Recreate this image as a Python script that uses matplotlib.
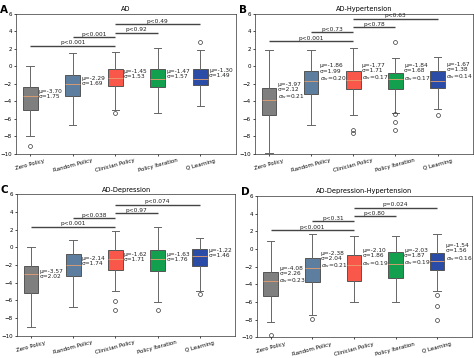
import numpy as np
import matplotlib
matplotlib.use("Agg")
import matplotlib.pyplot as plt

plt.rcParams['font.family'] = ['DejaVu Sans']

policies = ["Zero Policy", "Random Policy", "Clinician Policy", "Policy Iteration", "Q Learning"]
box_colors = ["#7f7f7f", "#5d7e9e", "#f9574a", "#13a04e", "#2a4ba6"]
titles = ["AD", "AD-Hypertension", "AD-Depression", "AD-Depression-Hypertension"]
letters = ["A", "B", "C", "D"]

# box stats per panel
q3_A = [-2.40, -1.03, -0.24, -0.31, -0.31]
med_A = [-3.43, -2.00, -1.34, -1.41, -1.38]
q1_A = [-5.03, -3.35, -2.29, -2.40, -2.17]
hi_A = [0.00, 1.51, 1.63, 2.16, 1.90]
lo_A = [-7.90, -6.74, -4.95, -5.37, -4.57]
fl_A = [[-9.06], [], [-5.37], [], [2.81]]
mu_A = [-3.70, -2.29, -1.45, -1.47, -1.30]
sd_A = [1.75, 1.69, 1.53, 1.57, 1.49]
sw_A = None
p_A = ["p<0.001", "p<0.001", "p<0.92", "p<0.49"]
pbar_A = [2.39, 3.38, 3.87, 4.86]

q3_B = [-2.50, -0.48, -0.51, -0.78, -0.51]
med_B = [-3.83, -1.66, -1.54, -1.47, -1.66]
q1_B = [-5.50, -3.18, -2.61, -2.61, -2.50]
hi_B = [1.90, 1.89, 2.08, 0.93, 1.05]
lo_B = [-9.85, -6.69, -5.54, -5.28, -4.90]
fl_B = [[], [], [-7.26, -7.56], [2.85, -5.45, -6.40, -7.30], [-5.54]]
mu_B = [-3.97, -1.86, -1.77, -1.84, -1.67]
sd_B = [2.12, 1.99, 1.71, 1.68, 1.38]
sw_B = [0.21, 0.20, 0.17, 0.17, 0.14]
p_B = ["p<0.001", "p<0.73", "p<0.78", "p<0.63"]
pbar_B = [2.91, 3.94, 4.48, 5.47]

q3_C = [-2.08, -0.72, -0.34, -0.30, -0.19]
med_C = [-3.02, -2.00, -1.32, -1.32, -0.95]
q1_C = [-5.17, -3.28, -2.57, -2.64, -2.15]
hi_C = [0.08, 0.83, 1.89, 2.34, 1.06]
lo_C = [-9.06, -6.79, -4.91, -6.15, -4.98]
fl_C = [[], [], [-6.11, -7.06], [-7.06], [-5.28]]
mu_C = [-3.57, -2.14, -1.62, -1.63, -1.22]
sd_C = [2.02, 1.74, 1.71, 1.76, 1.46]
sw_C = None
p_C = ["p<0.001", "p<0.038", "p<0.97", "p<0.074"]
pbar_C = [2.34, 3.32, 3.85, 4.83]

q3_D = [-2.62, -0.96, -0.62, -0.28, -0.47]
med_D = [-3.57, -2.09, -1.80, -1.72, -1.34]
q1_D = [-5.35, -3.68, -3.57, -3.30, -2.32]
hi_D = [0.97, 1.73, 1.46, 1.46, 1.73]
lo_D = [-8.22, -7.46, -6.03, -6.03, -4.70]
fl_D = [[-9.73], [-7.92], [], [], [-5.19, -6.48, -8.03]]
mu_D = [-4.08, -2.38, -2.10, -2.03, -1.54]
sd_D = [2.26, 2.04, 1.86, 1.87, 1.56]
sw_D = [0.23, 0.21, 0.19, 0.19, 0.16]
p_D = ["p<0.001", "p<0.31", "p<0.80", "p=0.024"]
pbar_D = [2.18, 3.20, 3.73, 4.71]

# pairs compared (1-based box index)
pairs = [(1, 3), (2, 3), (3, 4), (3, 5)]

panels = [
    (q3_A, med_A, q1_A, hi_A, lo_A, fl_A, mu_A, sd_A, sw_A, p_A, pbar_A),
    (q3_B, med_B, q1_B, hi_B, lo_B, fl_B, mu_B, sd_B, sw_B, p_B, pbar_B),
    (q3_C, med_C, q1_C, hi_C, lo_C, fl_C, mu_C, sd_C, sw_C, p_C, pbar_C),
    (q3_D, med_D, q1_D, hi_D, lo_D, fl_D, mu_D, sd_D, sw_D, p_D, pbar_D),
]

# axes rects [left, bottom, width, height]
rects = [
    [0.034, 0.570, 0.464, 0.391],
    [0.538, 0.570, 0.460, 0.391],
    [0.036, 0.062, 0.460, 0.395],
    [0.542, 0.058, 0.454, 0.394],
]

fig = plt.figure(figsize=(4.74, 3.58), dpi=100)
pos = np.arange(1, 6)
w = 0.35

for k, (q3, med, q1, hi, lo, fl, mu, sd, sw, pt, pb) in enumerate(panels):
    ax = fig.add_axes(rects[k])
    stats = []
    for i in range(5):
        stats.append({"med": med[i], "q1": q1[i], "q3": q3[i],
                      "whislo": lo[i], "whishi": hi[i], "fliers": fl[i]})
    bp = ax.bxp(stats, positions=pos, widths=w, patch_artist=True, showfliers=True,
                boxprops=dict(edgecolor="#555555", linewidth=0.7),
                whiskerprops=dict(color="#666666", linewidth=0.7),
                capprops=dict(color="#666666", linewidth=0.7),
                medianprops=dict(color="#e8a070", linewidth=0.6),
                flierprops=dict(marker="o", markersize=2.8, markerfacecolor="none",
                                markeredgecolor="#333333", markeredgewidth=0.5))
    for patch, c in zip(bp["boxes"], box_colors):
        patch.set_facecolor(c)

    # mean / sd annotations
    for i in range(5):
        s = "\u03bc=%.2f\n\u03c3=%.2f" % (mu[i], sd[i])
        if sw is not None:
            s += "\n$\\sigma_w$=%.2f" % sw[i]
        ax.text(pos[i] + w / 2 + 0.03, mu[i], s, fontsize=4.2, va="bottom", ha="left",
                color="#222222", linespacing=1.05)

    # significance bars
    for (a, b), lab, yb in zip(pairs, pt, pb):
        ax.plot([a, b], [yb, yb], color="#444444", lw=1.0, solid_capstyle="butt")
        ax.text((a + b) / 2, yb + 0.03, lab, fontsize=4.2, ha="center", va="bottom",
                color="#222222")

    ax.set_xlim(0.67, 5.84)
    ax.set_ylim(-10, 6)
    ax.set_yticks(np.arange(-10, 7, 2))
    ax.set_xticks(pos)
    ax.set_xticklabels(policies, rotation=15, ha="center")
    ax.tick_params(labelsize=4.0, length=1.5, width=0.5, pad=1.5)
    for sp in ax.spines.values():
        sp.set_linewidth(0.5)
        sp.set_color("#333333")
    ax.set_title(titles[k], fontsize=4.8, pad=2)
    bb = rects[k]
    fig.text(bb[0] - 0.034, bb[1] + bb[3] + 0.012, letters[k], fontsize=7.5,
             fontweight="bold", ha="left", va="center")

fig.savefig("out.png", dpi=100)
